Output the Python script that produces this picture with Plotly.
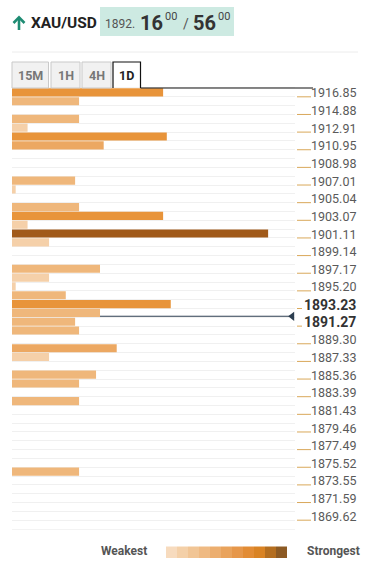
import plotly.graph_objects as go

# ---------------- data ----------------
symbol = "XAU/USD"
bid_int, bid_dec, bid_sup = "1892.", "16", "00"
ask_dec, ask_sup = "56", "00"
current_price = 1892.16
timeframes = ["15M", "1H", "4H", "1D"]
active_tf = "1D"

level_labels = ["1916.85", "1914.88", "1912.91", "1910.95", "1908.98", "1907.01",
                "1905.04", "1903.07", "1901.11", "1899.14", "1897.17", "1895.20",
                "1893.23", "1891.27", "1889.30", "1887.33", "1885.36", "1883.39",
                "1881.43", "1879.46", "1877.49", "1875.52", "1873.55", "1871.59",
                "1869.62"]

# confluence strength per row (two rows per labelled level, top to bottom)
strength = [53.4, 23.7, 0, 23.7, 5.5, 54.7, 32.4, 0, 0, 0,
            22.3, 1.3, 0, 23.7, 53.4, 5.5, 90.5, 13.1, 0, 0,
            31.1, 13.1, 1.3, 19.0, 56.1, 31.1, 22.3, 23.7, 0, 37.0,
            13.1, 0, 29.7, 23.7, 0, 23.7, 0, 0, 0, 0,
            0, 0, 0, 23.7, 0, 0, 0, 0, 0, 0]

legend_colors = ["#F7DBBE", "#F4D0A8", "#F1C595", "#EFBA83", "#ECAE6F", "#E9A35C",
                 "#E6974A", "#E28C35", "#D98324", "#B46E20", "#8C5A24"]
legend_low, legend_high = "Weakest", "Strongest"

# ---------------- layout helpers ----------------
W, H = 369, 567
X0, X1, Y0, Y1 = 12, 295, 88, 529
PW, PH = X1 - X0, Y1 - Y0
FONT = "Roboto"


def px(x):
    return (x - X0) / PW


def py(y):
    return (Y1 - y) / PH


def bucket_color(v):
    if v < 15:
        return "#F5D0A9"
    if v < 32:
        return "#EFB77B"
    if v < 45:
        return "#ECA862"
    if v < 80:
        return "#E8943A"
    return "#A15A1A"


n_rows = len(strength)
rows = list(range(n_rows))
colors = [bucket_color(v) for v in strength]

top_price = float(level_labels[0])
row_step = (float(level_labels[0]) - float(level_labels[-1])) / (2 * (len(level_labels) - 1))
price_row = (top_price - current_price) / row_step
price_y = int(price_row + 0.5) + 0.38

fig = go.Figure()
fig.add_trace(go.Bar(
    x=strength, y=rows, orientation="h",
    marker=dict(color=colors, line=dict(width=0)),
    hoverinfo="skip", showlegend=False,
))
fig.add_trace(go.Scatter(
    x=[99.0], y=[price_y], mode="markers",
    marker=dict(symbol="triangle-left", size=8, color="#2C3E50"),
    hoverinfo="skip", showlegend=False,
))

shapes = []
annotations = []

# current price line (above grid, below bars)
shapes.append(dict(type="line", xref="x", yref="y", x0=0, x1=99.0, y0=price_y, y1=price_y,
                   line=dict(color="#2C3E50", width=1.2), layer="between"))

# level labels and their ticks
below_lbl = min((l for l in level_labels if float(l) < current_price), key=lambda l: current_price - float(l))
above_lbl = min((l for l in level_labels if float(l) > current_price), key=lambda l: float(l) - current_price)
for k, lab in enumerate(level_labels):
    r = 2 * k
    bold = lab in (below_lbl, above_lbl)
    yc = py(Y0 + (r + 0.5) * PH / n_rows)
    yb = py(Y0 + (r + 1) * PH / n_rows)
    shapes.append(dict(type="line", xref="paper", yref="paper",
                       x0=px(297), x1=px(302 if bold else 311), y0=yb, y1=yb,
                       line=dict(color="#D9A85A", width=1)))
    annotations.append(dict(
        text=f"<b>{lab}</b>" if bold else lab, xref="paper", yref="paper",
        x=px(357.5), y=yc, xanchor="right", yanchor="middle", showarrow=False,
        yshift=-0.5,
        font=dict(family=FONT, size=14 if bold else 12.5, color="#333" if bold else "#5a5a5a")))

# header arrow (drawn)
arrow_col = "#1E8C73"
shapes.append(dict(type="path", xref="paper", yref="paper",
                   path=f"M {px(19)},{py(30)} L {px(19)},{py(17.5)}",
                   line=dict(color=arrow_col, width=2.6)))
shapes.append(dict(type="path", xref="paper", yref="paper",
                   path=f"M {px(13.5)},{py(23)} L {px(19)},{py(17.3)} L {px(24.5)},{py(23)}",
                   line=dict(color=arrow_col, width=2.6)))

# header texts
annotations += [
    dict(text=f"<b>{symbol}</b>", x=px(29), y=py(23), xanchor="left", yanchor="middle",
         font=dict(family=FONT, size=15.5, color="#222")),
    dict(text=bid_int, x=px(103), y=py(24), xanchor="left", yanchor="middle",
         font=dict(family=FONT, size=12, color="#555")),
    dict(text=f"<b>{bid_dec}</b>", x=px(137.5), y=py(22.5), xanchor="left", yanchor="middle",
         font=dict(family=FONT, size=20, color="#333")),
    dict(text=bid_sup, x=px(162.5), y=py(16), xanchor="left", yanchor="middle",
         font=dict(family=FONT, size=11, color="#444")),
    dict(text="/", x=px(181), y=py(24), xanchor="left", yanchor="middle",
         font=dict(family=FONT, size=14, color="#555")),
    dict(text=f"<b>{ask_dec}</b>", x=px(190.5), y=py(22.5), xanchor="left", yanchor="middle",
         font=dict(family=FONT, size=20, color="#333")),
    dict(text=ask_sup, x=px(215.5), y=py(16), xanchor="left", yanchor="middle",
         font=dict(family=FONT, size=11, color="#444")),
]
for a in annotations[-7:]:
    a.update(xref="paper", yref="paper", showarrow=False)

shapes.append(dict(type="rect", xref="paper", yref="paper", x0=px(100), x1=px(234),
                   y0=py(36), y1=py(7), fillcolor="#CDEAE2", line=dict(width=0), layer="below"))
shapes.append(dict(type="line", xref="paper", yref="paper", x0=px(12), x1=px(358),
                   y0=py(52), y1=py(52), line=dict(color="#ECECEC", width=1)))

# timeframe tabs
tab_edges = [(12, 48.5), (51, 80), (82, 111), (113, 140.5)]
for (a, b), tf in zip(tab_edges, timeframes):
    active = tf == active_tf
    if active:
        shapes.append(dict(type="path", xref="paper", yref="paper",
                           path=f"M {px(a)},{py(88)} L {px(a)},{py(62)} L {px(b)},{py(62)} L {px(b)},{py(88)}",
                           line=dict(color="#111", width=1.2), fillcolor="rgba(0,0,0,0)"))
    else:
        shapes.append(dict(type="rect", xref="paper", yref="paper", x0=px(a), x1=px(b),
                           y0=py(88), y1=py(62), fillcolor="#F1F1F1",
                           line=dict(color="#C9C9C9", width=1)))
    annotations.append(dict(text=f"<b>{tf}</b>", xref="paper", yref="paper",
                            x=px((a + b) / 2), y=py(75.5), xanchor="center", yanchor="middle",
                            showarrow=False,
                            font=dict(family=FONT, size=12.5, color="#222" if active else "#777")))
shapes.append(dict(type="line", xref="paper", yref="paper", x0=px(140.5), x1=px(313),
                   y0=py(88), y1=py(88), line=dict(color="#111", width=1.2)))

# strength legend
cell = (287 - 166) / len(legend_colors)
for i, c in enumerate(legend_colors):
    shapes.append(dict(type="rect", xref="paper", yref="paper",
                       x0=px(166 + i * cell), x1=px(166 + (i + 1) * cell),
                       y0=py(558), y1=py(546.5), fillcolor=c, line=dict(width=0)))
annotations.append(dict(text=f"<b>{legend_low}</b>", xref="paper", yref="paper", x=px(148.5),
                        y=py(551), xanchor="right", yanchor="middle", showarrow=False,
                        font=dict(family=FONT, size=12, color="#555")))
annotations.append(dict(text=f"<b>{legend_high}</b>", xref="paper", yref="paper", x=px(305),
                        y=py(551), xanchor="left", yanchor="middle", showarrow=False,
                        font=dict(family=FONT, size=12, color="#555")))

fig.update_layout(
    width=W, height=H,
    margin=dict(l=X0, r=W - X1, t=Y0, b=H - Y1, autoexpand=False),
    paper_bgcolor="white", plot_bgcolor="white",
    bargap=0.08,
    shapes=shapes, annotations=annotations,
    font=dict(family=FONT),
)
fig.update_xaxes(range=[0, 100], showgrid=False, zeroline=False, showticklabels=False,
                 showline=True, mirror=True, linecolor="#F3F3F3", linewidth=1, fixedrange=True)
fig.update_yaxes(range=[n_rows - 0.5, -0.5], tickmode="array",
                 tickvals=[i - 0.5 for i in range(n_rows + 1)],
                 showticklabels=False, ticks="", showgrid=True, gridcolor="#F0F0F0", gridwidth=1,
                 zeroline=False, showline=False, fixedrange=True)

fig.write_html(
    "out.html",
    config={"displayModeBar": False},
    post_script="document.body.style.margin='0';document.body.style.overflow='hidden';",
)
